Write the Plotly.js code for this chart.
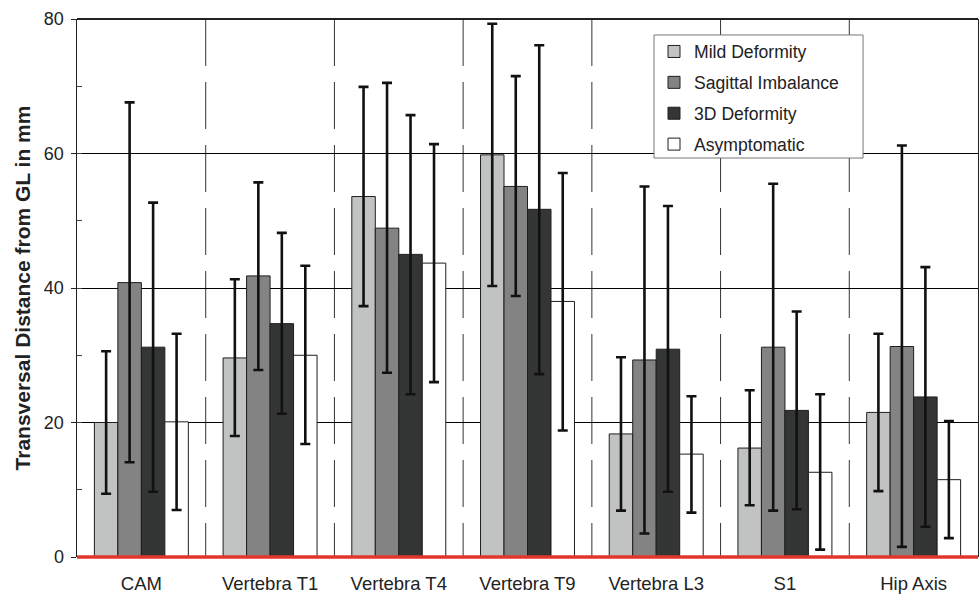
<!DOCTYPE html>
<html>
<head>
<meta charset="utf-8">
<script src="https://cdn.plot.ly/plotly-3.0.1.min.js"></script>
<style>html,body{margin:0;padding:0;background:#fff;}#chart{width:979px;height:596px;}</style>
</head>
<body>
<div id="chart"></div>
<script>
var categories = ["CAM", "Vertebra T1", "Vertebra T4", "Vertebra T9", "Vertebra L3", "S1", "Hip Axis"];
var seriesNames = ["Mild Deformity", "Sagittal Imbalance", "3D Deformity", "Asymptomatic"];

var mildMean = [20.0, 29.6, 53.6, 59.8, 18.3, 16.2, 21.5];
var mildHigh = [30.6, 41.3, 69.9, 79.3, 29.7, 24.8, 33.2];
var mildLow  = [9.4, 18.0, 37.3, 40.3, 6.9, 7.7, 9.8];

var sagMean = [40.8, 41.8, 48.9, 55.1, 29.3, 31.2, 31.3];
var sagHigh = [67.6, 55.7, 70.5, 71.5, 55.1, 55.5, 61.2];
var sagLow  = [14.1, 27.8, 27.4, 38.8, 3.5, 6.9, 1.5];

var d3Mean = [31.2, 34.7, 45.0, 51.7, 30.9, 21.8, 23.8];
var d3High = [52.7, 48.2, 65.7, 76.1, 52.2, 36.5, 43.1];
var d3Low  = [9.7, 21.3, 24.2, 27.2, 9.7, 7.1, 4.5];

var asyMean = [20.1, 30.0, 43.7, 38.0, 15.3, 12.6, 11.5];
var asyHigh = [33.2, 43.3, 61.4, 57.1, 23.9, 24.2, 20.2];
var asyLow  = [7.0, 16.8, 26.0, 18.8, 6.6, 1.1, 2.8];

var yTickVals = [0, 20, 40, 60, 80];

var colors = ["#c1c3c2", "#838383", "#343635", "#ffffff"];
var means = [mildMean, sagMean, d3Mean, asyMean];
var highs = [mildHigh, sagHigh, d3High, asyHigh];
var lows = [mildLow, sagLow, d3Low, asyLow];

var traces = seriesNames.map(function(name, s) {
  return {
    type: "bar",
    name: name,
    legendgroup: "g" + s,
    x: categories,
    y: means[s],
    marker: {color: colors[s], line: {color: "#1e1e1e", width: 1}},
    error_y: {
      type: "data",
      symmetric: false,
      array: highs[s].map(function(h, i) { return h - means[s][i]; }),
      arrayminus: lows[s].map(function(l, i) { return means[s][i] - l; }),
      color: "#111111",
      thickness: 2.6,
      width: 5
    }
  };
});

var shapes = [];
for (var i = 0; i < categories.length - 1; i++) {
  shapes.push({
    type: "line", xref: "x", yref: "y",
    x0: i + 0.5, x1: i + 0.5, y0: 80, y1: 0,
    line: {color: "#333333", width: 1, dash: "47px,16px"},
    layer: "below"
  });
}
// top border
shapes.push({
  type: "line", xref: "paper", yref: "paper",
  x0: 0, x1: 1, y0: 1, y1: 1,
  line: {color: "#222222", width: 2.2},
  layer: "above"
});
// red baseline (paper-referenced so it is not clipped)
shapes.push({
  type: "line", xref: "paper", yref: "paper",
  x0: 0, x1: 1, y0: 0, y1: 0,
  line: {color: "#e2362a", width: 3.5},
  layer: "above"
});
// legend box
shapes.push({
  type: "rect", xref: "paper", yref: "paper",
  x0: 0.6404, x1: 0.8724, y0: 0.7416, y1: 0.9703,
  fillcolor: "#ffffff",
  line: {color: "#777777", width: 1},
  layer: "above"
});

var layout = {
  width: 979, height: 596,
  margin: {l: 77, r: 1, t: 19, b: 39},
  paper_bgcolor: "#ffffff",
  plot_bgcolor: "#ffffff",
  font: {family: "Liberation Sans, Arial, sans-serif", color: "#222222", size: 17},
  barmode: "group",
  bargap: 0.27,
  bargroupgap: 0,
  showlegend: true,
  legend: {
    x: 0.6404, y: 0.973, xanchor: "left", yanchor: "top",
    bgcolor: "rgba(0,0,0,0)", borderwidth: 0,
    font: {size: 17.6, color: "#222222"},
    tracegroupgap: 5
  },
  xaxis: {
    type: "category",
    showgrid: false,
    showline: false,
    ticks: "",
    ticklabelstandoff: 13,
    tickfont: {size: 18.5, color: "#222222"},
    fixedrange: true
  },
  yaxis: {
    range: [0, 80],
    tickvals: yTickVals,
    ticktext: yTickVals.map(String),
    showgrid: true, gridcolor: "#000000", gridwidth: 1,
    zeroline: false,
    showline: true, mirror: true, linecolor: "#222222", linewidth: 1.5,
    ticks: "outside", ticklen: 5, tickcolor: "#222222",
    ticklabelstandoff: 3,
    tickfont: {size: 18, color: "#222222"},
    minor: {dtick: 10, ticks: "inside", ticklen: 5, tickcolor: "#444444", showgrid: false},
    title: {text: "<b>Transversal Distance from GL in mm</b>", font: {size: 21, color: "#222222"}, standoff: 7}
  },
  shapes: shapes
};

Plotly.newPlot("chart", traces, layout, {displayModeBar: false, staticPlot: true});
</script>
</body>
</html>
